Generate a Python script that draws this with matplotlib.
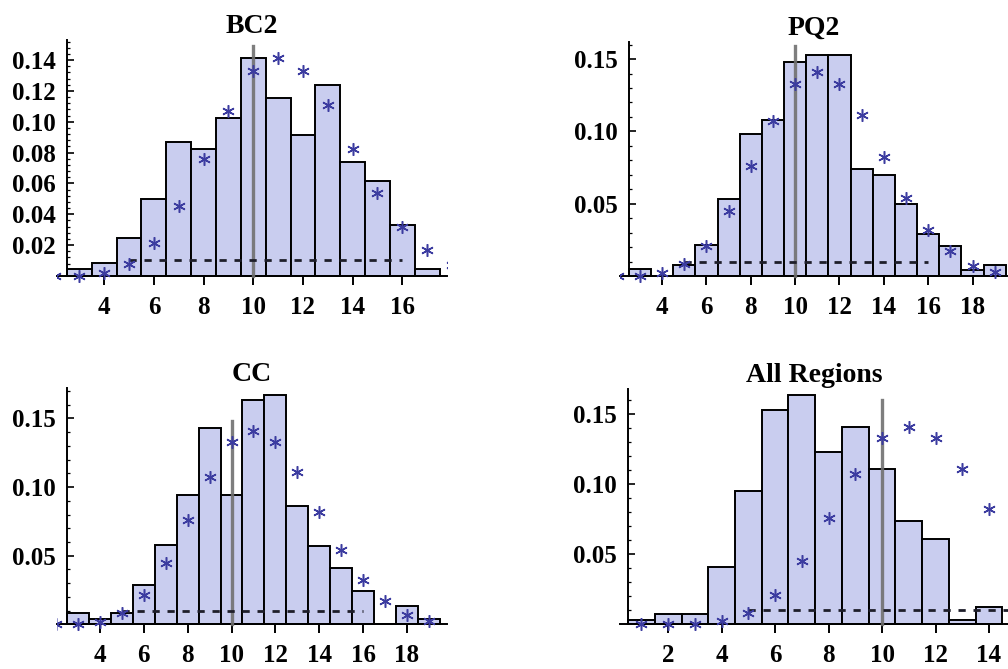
import numpy as np
import matplotlib.pyplot as plt
from matplotlib.ticker import FixedLocator, FormatStrFormatter

plt.rcParams['font.family'] = ['Liberation Serif', 'DejaVu Serif']
plt.rcParams['font.weight'] = 'bold'

# expected frequencies (stars), same for every panel
star_x = list(range(1, 20))
star_y = [0.0, 0.0, 0.0, 0.002, 0.008, 0.021, 0.045, 0.076, 0.107, 0.133,
          0.141, 0.133, 0.111, 0.082, 0.054, 0.032, 0.017, 0.007, 0.0025]

# observed frequencies per region
bc2_x = list(range(3, 18))
bc2_y = [0.0045, 0.0085, 0.0245, 0.050, 0.087, 0.0826, 0.1025, 0.141, 0.1155,
         0.0912, 0.1237, 0.074, 0.0613, 0.033, 0.0045]

pq2_x = list(range(3, 20))
pq2_y = [0.0048, 0.0, 0.0078, 0.0217, 0.053, 0.098, 0.1076, 0.148, 0.153,
         0.153, 0.074, 0.070, 0.050, 0.029, 0.021, 0.0044, 0.0076]

cc_x = list(range(3, 20))
cc_y = [0.008, 0.0039, 0.008, 0.029, 0.0576, 0.0944, 0.143, 0.0944, 0.1637,
        0.167, 0.086, 0.0571, 0.0414, 0.0242, 0.0, 0.0133, 0.0039]

all_x = list(range(1, 15))
all_y = [0.0029, 0.0071, 0.0071, 0.0405, 0.0952, 0.1529, 0.164, 0.123,
         0.1405, 0.111, 0.0736, 0.0607, 0.0029, 0.0124]

# reference lines
mean_x = 10
floor_y = 0.01
floor_x = (5, 16)

W, H = 1008, 669
fig = plt.figure(figsize=(W / 100, H / 100), dpi=100)


def px_axes(left, right, top, bottom):
    return fig.add_axes([left / W, 1 - bottom / H, (right - left) / W, (bottom - top) / H])


# (title, x, y, axes box in px, xlim, ylim, y-axis origin, major y step, minor y step, x ticks, vline top)
panels = [
    ("BC2", bc2_x, bc2_y, (57, 447, 40, 282), (2.1, 17.8), (-0.004, 0.153), 2.5,
     0.02, 0.004, range(4, 17, 2), 0.149),
    ("PQ2", pq2_x, pq2_y, (620, 1008, 41.7, 281.8), (2.1, 19.6), (-0.004, 0.162), 2.5,
     0.05, 0.01, range(4, 19, 2), 0.159),
    ("CC", cc_x, cc_y, (57, 447, 388.3, 629.8), (2.04, 19.83), (-0.004, 0.172), 2.5,
     0.05, 0.01, range(4, 19, 2), 0.148),
    ("All Regions", all_x, all_y, (620, 1008, 389, 629.6), (0.2, 14.71), (-0.004, 0.168), 0.5,
     0.05, 0.01, range(2, 15, 2), 0.160),
]

for title, xs, ys, box, xlim, ylim, x0, ymaj, ymin, xt, vtop in panels:
    ax = px_axes(*box)
    ax.bar(xs, ys, width=1.0, color="#c9cdef", edgecolor="black", linewidth=1.4, zorder=2)
    ax.plot([mean_x, mean_x], [0, vtop], color="#707070", lw=2.4, alpha=0.9, zorder=3)
    ax.plot(floor_x, [floor_y, floor_y], color="#1e1e2a", lw=2.0,
            linestyle=(0, (2.6, 2.8)), zorder=4)
    ax.plot(star_x, star_y, linestyle="none", marker=(6, 2, 0), ms=9, mew=1.1,
            color="#3c3ca0", zorder=5)

    ax.set_xlim(*xlim)
    ax.set_ylim(*ylim)
    ax.spines["top"].set_visible(False)
    ax.spines["right"].set_visible(False)
    ax.spines["left"].set_position(("data", x0))
    ax.spines["bottom"].set_position(("data", 0))
    ax.spines["left"].set_bounds(0, ylim[1])
    ax.spines["left"].set_linewidth(1.4)
    ax.spines["bottom"].set_linewidth(1.4)
    ax.patch.set_visible(False)

    ax.set_xticks(list(xt))
    ax.set_yticks(np.arange(ymaj, ylim[1], ymaj))
    ax.yaxis.set_minor_locator(FixedLocator(np.arange(ymin, ylim[1], ymin)))
    ax.yaxis.set_major_formatter(FormatStrFormatter("%.2f"))
    ax.tick_params(axis="x", direction="out", length=6.5, width=1.4, pad=8, labelsize=18)
    ax.tick_params(axis="y", which="major", direction="in", length=5, width=1.2, pad=8,
                   labelsize=18)
    ax.tick_params(axis="y", which="minor", direction="in", length=2.5, width=0.9)
    for lab in ax.get_xticklabels() + ax.get_yticklabels():
        lab.set_fontweight("bold")

    ax.set_title(title, fontsize=20, fontweight="bold", pad=5)

fig.savefig("out.png", dpi=100)
